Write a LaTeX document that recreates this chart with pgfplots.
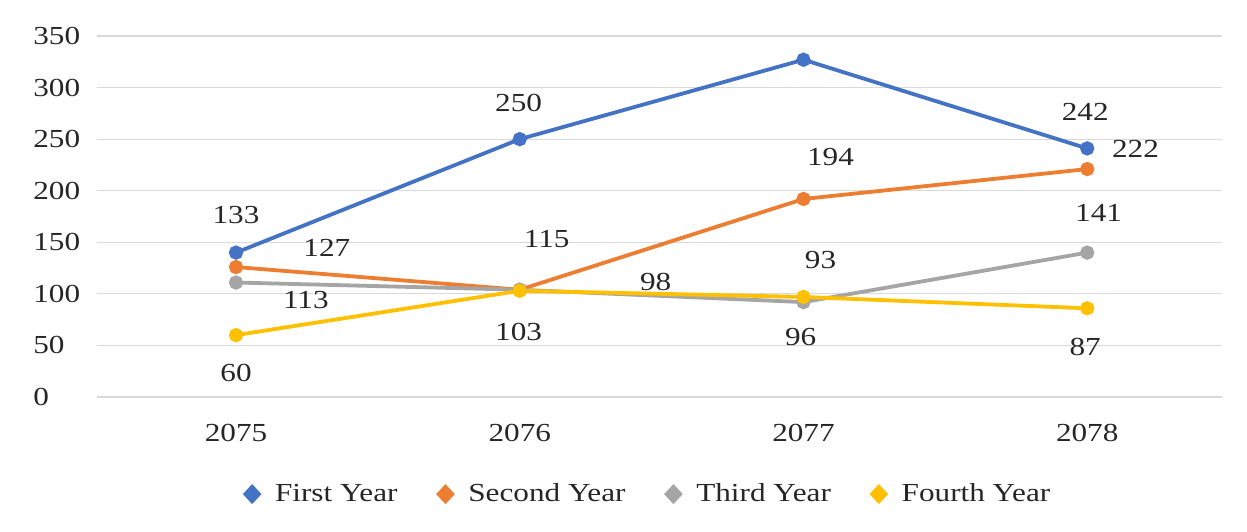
\documentclass[border=0pt]{standalone}
\usepackage{fontspec}
\setmainfont{Liberation Serif}[FakeStretch=1.2]
\usepackage{pgfplots}
\pgfplotsset{compat=1.18}

\definecolor{cFirst}{HTML}{4472C4}
\definecolor{cSecond}{HTML}{ED7D31}
\definecolor{cThird}{HTML}{A5A5A5}
\definecolor{cFourth}{HTML}{FFC000}
\definecolor{gridc}{HTML}{D9D9D9}
\definecolor{txt}{HTML}{262626}

\begin{document}
\begin{tikzpicture}[font=\fontsize{13}{15}\selectfont]
\path[use as bounding box] (-48.5pt,-67pt) rectangle (575pt,198.5pt);
\begin{axis}[
  scale only axis,
  width=562.5pt, height=180.5pt,
  xmin=-0.49, xmax=3.475,
  ymin=0, ymax=350,
  xtick={0,1,2,3},
  xticklabels={2075,2076,2077,2078},
  ytick={0,50,...,350},
  ymajorgrids,
  grid style={gridc, line width=0.6pt},
  axis line style={draw=none},
  tick style={draw=none},
  /pgf/number format/assume math mode=true,
  tick label style={font=\fontsize{13}{15}\selectfont, text=txt},
  yticklabel style={anchor=west, inner sep=0pt, xshift=-32pt},
  xticklabel style={anchor=base, inner sep=0pt, yshift=-22pt},
  every axis plot/.append style={line width=1.9pt, mark=*, mark size=2.6pt},
  legend style={draw=none, fill=none, at={(0.49,-0.269)}, anchor=center,
    font=\fontsize{13}{15}\selectfont, text=txt},
  legend columns=4,
  legend cell align=left,
  /tikz/every even column/.append style={column sep=17pt},
  legend image code/.code={%
    \draw[mark=diamond*, mark size=3.6pt, mark options={xscale=1.25}] plot[only marks] coordinates {(0pt,0pt)};
    \path (-4pt,0pt) (8.5pt,0pt);},
]
% First Year
\addplot[cFirst, mark options={fill=cFirst}] coordinates {(0,140) (1,250) (2,327) (3,241)};
% Second Year
\addplot[cSecond, mark options={fill=cSecond}] coordinates {(0,126) (1,104) (2,192) (3,221)};
% Third Year
\addplot[cThird, mark options={fill=cThird}] coordinates {(0,111) (1,104) (2,92) (3,140)};
% Fourth Year
\addplot[cFourth, mark options={fill=cFourth}] coordinates {(0,60) (1,103) (2,97) (3,86)};
\legend{First Year,Second Year,Third Year,Fourth Year}

% data labels
\begin{scope}[every node/.style={text=txt, inner sep=0pt, font=\fontsize{13}{15}\selectfont}]
\node at (0,176.5) {133};
\node at (0.32,144.5) {127};
\node at (0.246,94) {113};
\node at (0,23) {60};
\node at (0.996,285) {250};
\node at (1.095,153) {115};
\node at (1.479,111.5) {98};
\node at (0.996,63) {103};
\node at (1.99,365.5) {309};
\node at (2.095,232.7) {194};
\node at (2.06,133) {93};
\node at (1.99,58) {96};
\node at (2.993,276) {242};
\node at (3.17,241) {222};
\node at (3.04,178) {141};
\node at (2.993,48.5) {87};
\end{scope}
\end{axis}
\end{tikzpicture}
\end{document}
